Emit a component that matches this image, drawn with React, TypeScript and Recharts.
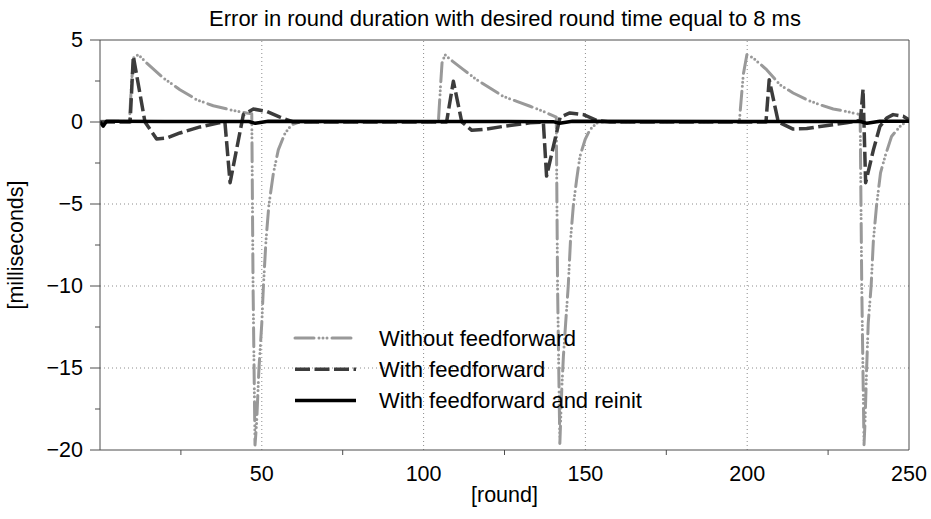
import React from 'react';
import {
  LineChart,
  Line,
  XAxis,
  YAxis,
  ReferenceLine,
  Label,
} from 'recharts';

const FONT = '"Liberation Sans", Arial, Helvetica, sans-serif';

const TITLE = 'Error in round duration with desired round time equal to 8 ms';

// x axis: minor ticks every 25, labelled every 50
const X_TICKS = [25, 50, 75, 100, 125, 150, 175, 200, 225, 250];
const X_MAJOR = [50, 100, 150, 200, 250];
const X_GRID = [50, 100, 150, 200];

// y axis: minor ticks every 2.5, labelled every 5
const Y_TICKS = [5, 2.5, 0, -2.5, -5, -7.5, -10, -12.5, -15, -17.5, -20];
const Y_MAJOR = [5, 0, -5, -10, -15, -20];
const Y_LABELS = ['5', '0', '\u22125', '\u221210', '\u221215', '\u221220'];
const Y_GRID = [-5, -10, -15];

// Without feedforward
const noFfRound = [
  0, 9.1, 9.8, 10.5, 11.9, 14.4, 19.6, 24.7, 29.9, 35.0, 40.2, 45.3, 46.9, 47.3, 47.9,
  48.4, 49.1, 50.0, 50.5, 51.3, 52.2, 53.6, 55.1, 57.2, 59.2, 62,
  104.0, 104.6, 105.2, 105.7, 106.6, 109, 112.3, 116.4, 120.5, 124.6, 128.8, 132.9, 137.0,
  141.0, 141.4, 142.1, 142.7, 143.2, 143.9, 144.7, 145.4, 146.3, 147.3, 148.3, 149.9,
  151.4, 153.5, 157,
  197.0, 197.6, 198.8, 199.9, 201.9, 206.0, 210.1, 214.2, 218.4, 222.5, 226.6, 230.7,
  234.9, 235.4, 236.1, 236.4, 236.9, 237.4, 238.3, 239.0, 240.0, 241.2, 242.6, 244.6,
  247.2, 249.3, 250,
];
const noFfMs = [
  0.05, 0.05, 2.58, 4.0, 4.1, 3.6, 2.68, 1.97, 1.36, 0.99, 0.75, 0.55, 0.5, -10, -19.7,
  -18.35, -15.1, -12.26, -10.0, -7.2, -5.04, -3.1, -1.7, -0.67, -0.17, 0.02,
  0.02, 0.1, 2.1, 3.6, 4.1, 3.7, 3.19, 2.58, 2.07, 1.56, 1.26, 0.96, 0.65,
  0.3, -10, -19.6, -16.3, -14.3, -12.26, -10.0, -7.2, -5.04, -3.5, -2.1, -1.08,
  -0.47, -0.06, 0.02,
  0.02, 0.1, 2.9, 4.1, 3.9, 3.19, 2.27, 1.77, 1.36, 1.05, 0.79, 0.65,
  0.45, -10, -19.7, -18.35, -15.1, -12.26, -10.0, -7.2, -5.04, -3.1, -2.1, -0.88,
  -0.27, 0.04, 0.1,
];

// With feedforward
const ffRound = [
  0, 9.3, 10.3, 13.9, 17.5, 20.6, 24.7, 30.9, 37.1, 38.6, 40.2, 44.3, 47.4, 51.5, 55.6, 59.7,
  107.1, 109.2, 111.8, 114.9, 119.5, 124.6, 132.9, 137.0, 138.0, 142.2, 145.2, 149.4, 153.5, 157.6,
  205.8, 206.8, 209.6, 214.2, 218.4, 222.5, 230.7, 235.0, 235.8, 236.6, 239.0, 241.0, 243.1,
  245.1, 248.2, 250,
];
const ffMs = [
  0, 0, 4.0, 0, -1.04, -0.98, -0.67, -0.3, -0.04, 0, -3.7, 0.45, 0.79, 0.65, 0.3, 0,
  0, 2.48, 0, -0.51, -0.43, -0.27, -0.05, 0, -3.3, 0.3, 0.55, 0.45, 0.1, 0,
  0, 2.58, 0, -0.43, -0.4, -0.27, -0.05, 0.1, 2.0, -3.7, -1.7, -0.27, 0.24,
  0.45, 0.35, 0.14,
];

// With feedforward and reinit
const reinitRound = [0, 1, 2, 4, 20, 46, 48, 52, 100, 140, 142, 146, 200, 235, 237, 241, 250];
const reinitMs = [0, -0.25, 0.05, 0.05, 0.03, 0.03, -0.08, 0.04, 0.03, 0.02, -0.08, 0.04, 0.03, 0.03, -0.08, 0.04, 0.05];

const SERIES = [
  { name: 'Without feedforward', rounds: noFfRound, ms: noFfMs, color: '#999999', width: 3, dash: '19 5 0 4 0 4 0 5', cap: 'round' },
  { name: 'With feedforward', rounds: ffRound, ms: ffMs, color: '#3c3c3c', width: 3.5, dash: '15 4.5', cap: 'butt' },
  { name: 'With feedforward and reinit', rounds: reinitRound, ms: reinitMs, color: '#000000', width: 3.5, dash: undefined, cap: 'butt' },
];

const toPoints = (rounds: number[], ms: number[]) =>
  rounds.map((round, i) => ({ round, ms: ms[i] }));

const AXIS_COLOR = '#4d4d4d';
const GRID_COLOR = '#8c8c8c';

function XTick(props: any) {
  const { x, y, payload } = props;
  const major = X_MAJOR.includes(payload.value);
  return (
    <g>
      {!major && <line x1={x} x2={x} y1={y} y2={y + 5} stroke={AXIS_COLOR} strokeWidth={1} />}
      {major && (
        <text x={x} y={y + 24} textAnchor="middle" dominantBaseline="central" fontSize={21.5} fontFamily={FONT} fill="#000">
          {payload.value}
        </text>
      )}
    </g>
  );
}

function YTick(props: any) {
  const { x, y, payload } = props;
  const idx = Y_MAJOR.indexOf(payload.value);
  const major = idx >= 0;
  return (
    <g>
      <line x1={x - (major ? 10 : 5)} x2={x} y1={y} y2={y} stroke={AXIS_COLOR} strokeWidth={1} />
      {major && (
        <text x={x - 17} y={y} textAnchor="end" dominantBaseline="central" fontSize={21.5} fontFamily={FONT} fill="#000">
          {Y_LABELS[idx]}
        </text>
      )}
    </g>
  );
}

function SeriesLegend() {
  return (
    <svg width={420} height={96} style={{ display: 'block' }}>
      {SERIES.map((s, i) => {
        const cy = 16 + i * 31.3;
        return (
          <g key={s.name}>
            <line
              x1={6}
              x2={67}
              y1={cy}
              y2={cy}
              stroke={s.color}
              strokeWidth={s.width}
              strokeDasharray={s.dash}
              strokeLinecap={s.cap as any}
            />
            <text x={90} y={cy} dominantBaseline="central" fontSize={22} fontFamily={FONT} fill="#000">
              {s.name}
            </text>
          </g>
        );
      })}
    </svg>
  );
}

export default function App() {
  return (
    <div style={{ position: 'absolute', left: 0, top: 0, width: 931, height: 519, background: '#fff', fontFamily: FONT }}>
      <div
        style={{
          position: 'absolute',
          top: 6,
          left: 0,
          width: 1010,
          textAlign: 'center',
          fontSize: 22,
          lineHeight: '26px',
          color: '#000',
          zIndex: 2,
        }}
      >
        {TITLE}
      </div>
      <LineChart width={931} height={519} margin={{ top: 40, right: 22, bottom: 9, left: 0 }}>
        <XAxis
          type="number"
          dataKey="round"
          domain={[0, 250]}
          ticks={X_TICKS}
          interval={0}
          height={60}
          tickSize={0}
          tickMargin={0}
          tickLine={false}
          tick={<XTick />}
          stroke={AXIS_COLOR}
          allowDataOverflow
        >
          <Label
            content={(p: any) => {
              const vb = p.viewBox;
              return (
                <text x={vb.x + vb.width / 2} y={vb.y + 45} textAnchor="middle" dominantBaseline="central" fontSize={21.5} fontFamily={FONT} fill="#000">
                  [round]
                </text>
              );
            }}
          />
        </XAxis>
        <YAxis
          type="number"
          domain={[-20, 5]}
          ticks={Y_TICKS}
          interval={0}
          width={100}
          tickSize={0}
          tickMargin={0}
          tickLine={false}
          tick={<YTick />}
          stroke={AXIS_COLOR}
          allowDataOverflow
        >
          <Label
            content={(p: any) => {
              const vb = p.viewBox;
              const cx = vb.x + 16;
              const cy = vb.y + vb.height / 2;
              return (
                <text x={cx} y={cy} transform={`rotate(-90 ${cx} ${cy})`} textAnchor="middle" dominantBaseline="central" fontSize={21.5} fontFamily={FONT} fill="#000">
                  [milliseconds]
                </text>
              );
            }}
          />
        </YAxis>
        {Y_GRID.map((v) => (
          <ReferenceLine key={'gy' + v} y={v} stroke={GRID_COLOR} strokeDasharray="1 3" strokeWidth={1} />
        ))}
        {X_GRID.map((v) => (
          <ReferenceLine key={'gx' + v} x={v} stroke={GRID_COLOR} strokeDasharray="1 3" strokeWidth={1} />
        ))}
        <ReferenceLine y={5} stroke={AXIS_COLOR} strokeWidth={1} />
        <ReferenceLine x={250} stroke={AXIS_COLOR} strokeWidth={1} />
        {SERIES.map((s) => (
          <Line
            key={s.name}
            name={s.name}
            data={toPoints(s.rounds, s.ms)}
            dataKey="ms"
            type="linear"
            stroke={s.color}
            strokeWidth={s.width}
            strokeDasharray={s.dash}
            strokeLinecap={s.cap as any}
            strokeLinejoin="round"
            dot={false}
            activeDot={false}
            isAnimationActive={false}
          />
        ))}
      </LineChart>
      <div style={{ position: 'absolute', left: 289, top: 322, zIndex: 2 }}>
        <SeriesLegend />
      </div>
    </div>
  );
}
